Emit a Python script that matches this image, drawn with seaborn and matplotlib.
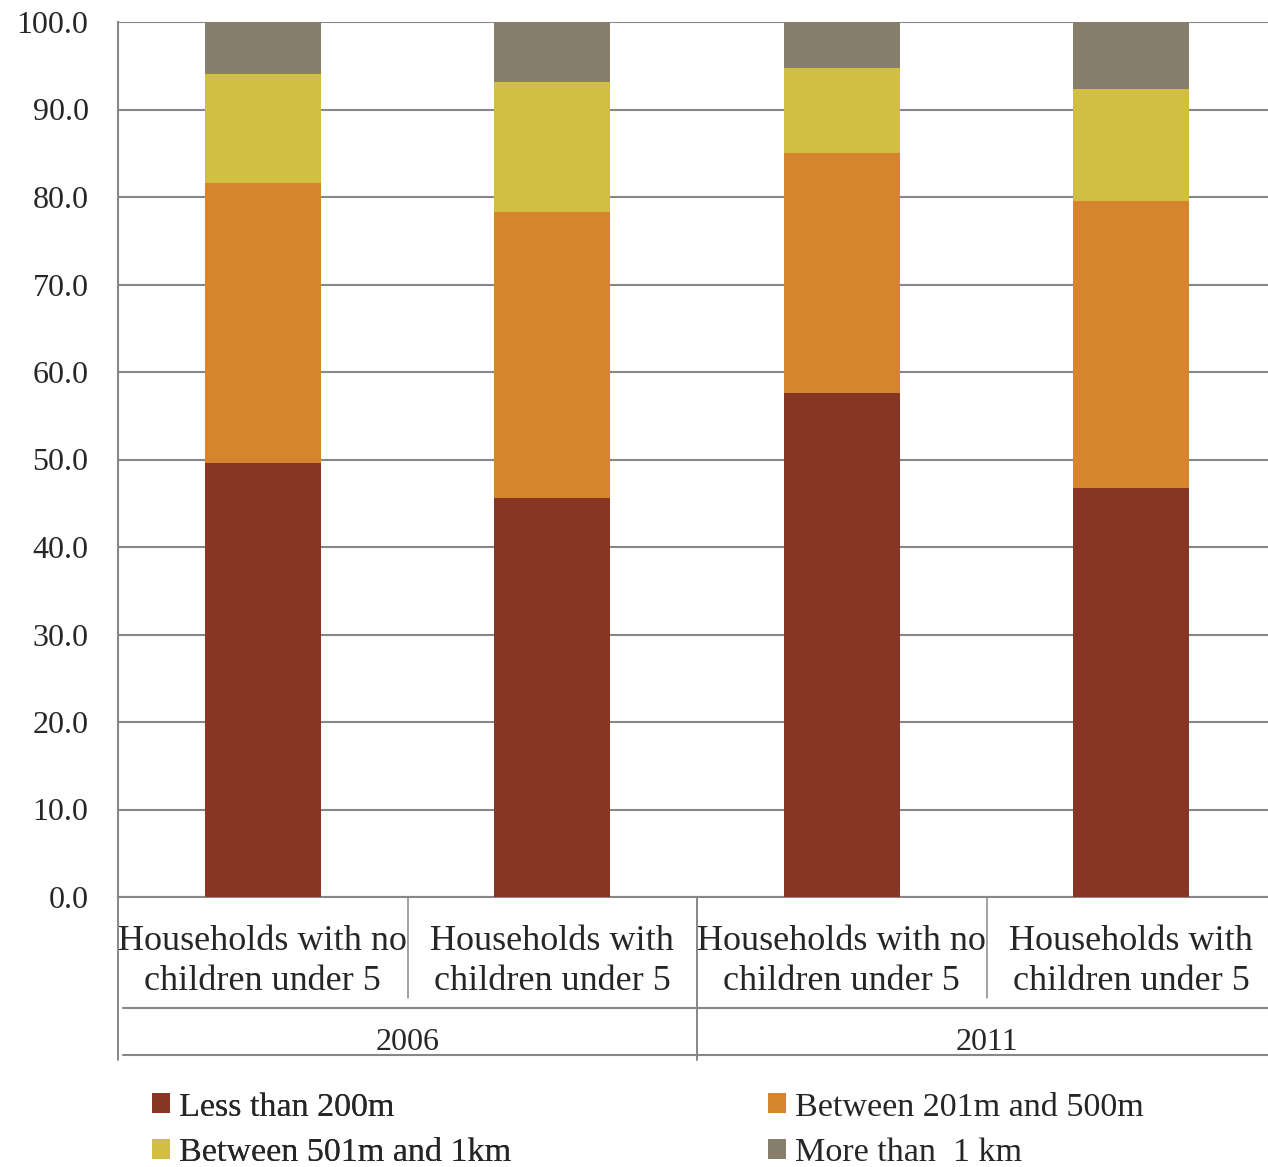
import numpy as np
import pandas as pd
import matplotlib
matplotlib.use("Agg")
import matplotlib.pyplot as plt
import matplotlib.transforms as mtransforms
from matplotlib.patches import Patch
from matplotlib.lines import Line2D
import seaborn as sns

# ---- data -------------------------------------------------------------
years = ["2006", "2006", "2011", "2011"]
households = [
    "Households with no\nchildren under 5",
    "Households with\nchildren under 5",
    "Households with no\nchildren under 5",
    "Households with\nchildren under 5",
]
series_names = [
    "Less than 200m",
    "Between 201m and 500m",
    "Between 501m and 1km",
    "More than  1 km",
]
less_than_200m = [49.6, 45.6, 57.6, 46.7]
between_201_500m = [32.0, 32.7, 27.4, 32.8]
between_501m_1km = [12.5, 14.9, 9.7, 12.8]
more_than_1km = [5.9, 6.8, 5.3, 7.7]
y_ticks = [0, 10, 20, 30, 40, 50, 60, 70, 80, 90, 100]

series_values = [less_than_200m, between_201_500m, between_501m_1km, more_than_1km]
colors = ["#873525", "#D5852E", "#D1BE42", "#877F6B"]
grid_color = "#878787"

keys = [f"{y}|{i}" for i, y in enumerate(years)]

rows = []
for name, vals in zip(series_names, series_values):
    for k, v in zip(keys, vals):
        rows.append({"key": k, "series": name, "value": v})
df = pd.DataFrame(rows)

# ---- figure -----------------------------------------------------------
sns.set_style("white")
plt.rcParams["font.family"] = ["Liberation Serif", "DejaVu Serif"]
FS_TICK = 23
FS_CAT = 26
FS_LEG = 24.6

fig = plt.figure(figsize=(12.68, 11.67), dpi=100)
W, H = 1268, 1167
ax_left, ax_right, ax_top, ax_bot = 118, 1276, 22, 897
ax = fig.add_axes([ax_left / W, 1 - ax_bot / H,
                   (ax_right - ax_left) / W, (ax_bot - ax_top) / H])

bottom = np.zeros(len(keys))
for name, vals, c in zip(series_names, series_values, colors):
    sub = df[df["series"] == name]
    sns.barplot(data=sub, x="key", y="value", order=keys, color=c,
                saturation=1, width=0.4, bottom=bottom.copy(),
                errorbar=None, linewidth=0, ax=ax, zorder=3)
    bottom += np.array(vals)

ax.set_xlim(-0.5, len(keys) - 0.5)
ax.set_ylim(0, 100)
ax.set_yticks(y_ticks)
ax.set_yticklabels([f"{t:.1f}" for t in y_ticks], fontsize=FS_TICK)
ax.set_xticks([])
ax.set_xlabel("")
ax.set_ylabel("")
ax.yaxis.grid(True, color=grid_color, linewidth=1.5, zorder=0)
ax.set_axisbelow(True)
ax.tick_params(axis="y", length=7.2, width=1.4, color=grid_color, pad=14)
for s in ["top", "right"]:
    ax.spines[s].set_visible(False)
for s in ["left", "bottom"]:
    ax.spines[s].set_color(grid_color)
    ax.spines[s].set_linewidth(1.5)

# ---- multi-level category axis ---------------------------------------
trans = mtransforms.blended_transform_factory(ax.transData, ax.transAxes)
ax_h = ax_bot - ax_top
slot = (ax_right - ax_left) / len(keys)


def fy(px):
    return (ax_bot - px) / ax_h


for i, lab in enumerate(households):
    ax.text(i, fy(961.5), lab, transform=trans, ha="center", va="center",
            fontsize=FS_CAT, linespacing=1.31, clip_on=False)

line_kw = dict(transform=trans, clip_on=False, color=grid_color)
# separators between households within a year
for xs in [0.5, 2.5]:
    ax.add_line(Line2D([xs, xs], [0, fy(998)], linewidth=1.1, **line_kw))
# separator between years and axis extension
for xs in [-0.5, 1.5]:
    ax.add_line(Line2D([xs, xs], [0, fy(1060)], linewidth=1.4, **line_kw))
# horizontal rules around the year row
x_start = (123 - ax_left) / slot - 0.5
for yp in [1008, 1055]:
    ax.add_line(Line2D([x_start, 3.5], [fy(yp), fy(yp)], linewidth=1.5,
                       **line_kw))

year_groups = {}
for i, y in enumerate(years):
    year_groups.setdefault(y, []).append(i)
for y, idx in year_groups.items():
    ax.text(np.mean(idx), fy(1043), y, transform=trans, ha="center",
            va="center", fontsize=FS_TICK, clip_on=False)

# ---- legend -----------------------------------------------------------
handles = [Patch(facecolor=c, edgecolor="none") for c in colors]
leg_kw = dict(loc="upper left", frameon=False, fontsize=FS_LEG,
              handlelength=0.52, handleheight=0.52, handletextpad=0.26,
              labelspacing=0.45, borderpad=0, borderaxespad=0)
leg1 = fig.legend([handles[0], handles[2]], [series_names[0], series_names[2]],
                  bbox_to_anchor=(152 / W, 1 - 1092 / H), **leg_kw)
fig.add_artist(leg1)
leg2 = fig.legend([handles[1], handles[3]], [series_names[1], series_names[3]],
                  bbox_to_anchor=(768 / W, 1 - 1092 / H), **leg_kw)

fig.savefig("out.png", dpi=100)
